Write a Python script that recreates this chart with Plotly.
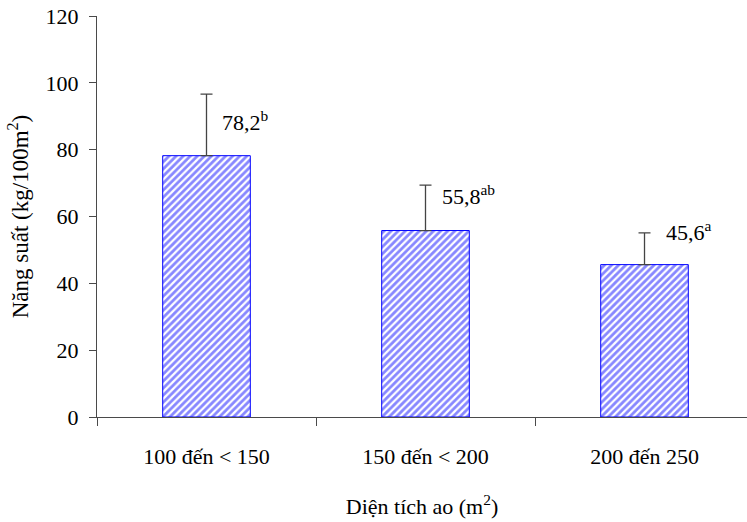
import plotly.graph_objects as go

# Pond-area groups and mean yield with upper standard deviation
categories = ["100 đến < 150", "150 đến < 200", "200 đến 250"]
yield_mean = [78.2, 55.8, 45.6]
yield_sd = [18.4, 13.6, 9.5]
value_labels = ["78,2", "55,8", "45,6"]
sig_letters = ["b", "ab", "a"]

FONT = "Liberation Serif"
AXIS_COLOR = "#4a4a4a"

fig = go.Figure()
fig.add_trace(go.Bar(
    x=categories,
    y=yield_mean,
    width=0.40,
    marker=dict(
        color="white",
        line=dict(color="#0000ff", width=1),
        pattern=dict(shape="/", fgcolor="#1010ff", bgcolor="white",
                     size=5, solidity=0.55),
    ),
    error_y=dict(type="data", array=yield_sd, symmetric=False,
                 arrayminus=[0] * len(yield_sd),
                 color="#444444", thickness=1.3, width=6),
    showlegend=False,
))

# value labels with significance letters, placed beside each error bar
label_shift = [(13, -27), (14, -10), (19, 2)]
for cat, m, sd, txt, sig, (dx, dy) in zip(categories, yield_mean, yield_sd,
                                          value_labels, sig_letters, label_shift):
    fig.add_annotation(
        x=cat, y=m + sd, text=f"{txt}<sup>{sig}</sup>",
        showarrow=False, xanchor="left", yanchor="middle",
        xshift=dx, yshift=dy,
        font=dict(family=FONT, size=22, color="black"),
    )

fig.update_layout(
    width=747, height=522,
    margin=dict(l=97, r=0, t=16, b=105),
    paper_bgcolor="white", plot_bgcolor="white",
    font=dict(family=FONT, size=22, color="black"),
    bargap=0.6,
)
fig.update_xaxes(
    type="category", range=[-0.5, 2.468],
    showline=True, linecolor=AXIS_COLOR, linewidth=1,
    ticks="outside", tickson="boundaries", ticklen=8, tickcolor=AXIS_COLOR,
    showgrid=False, zeroline=False,
    tickfont=dict(family=FONT, size=22, color="black"),
    ticklabelstandoff=20,
    title=dict(text="Diện tích ao (m<sup>2</sup>)", standoff=30,
               font=dict(family=FONT, size=22, color="black")),
)
fig.update_yaxes(
    range=[0, 120], dtick=20,
    showline=True, linecolor=AXIS_COLOR, linewidth=1,
    ticks="outside", ticklen=7, tickcolor=AXIS_COLOR,
    showgrid=False, zeroline=False,
    tickfont=dict(family=FONT, size=22, color="black"),
    ticklabelstandoff=6,
    title=dict(text="Năng suất (kg/100m<sup>2</sup>)", standoff=10,
               font=dict(family=FONT, size=23, color="black")),
)

fig.write_html("out.html")
